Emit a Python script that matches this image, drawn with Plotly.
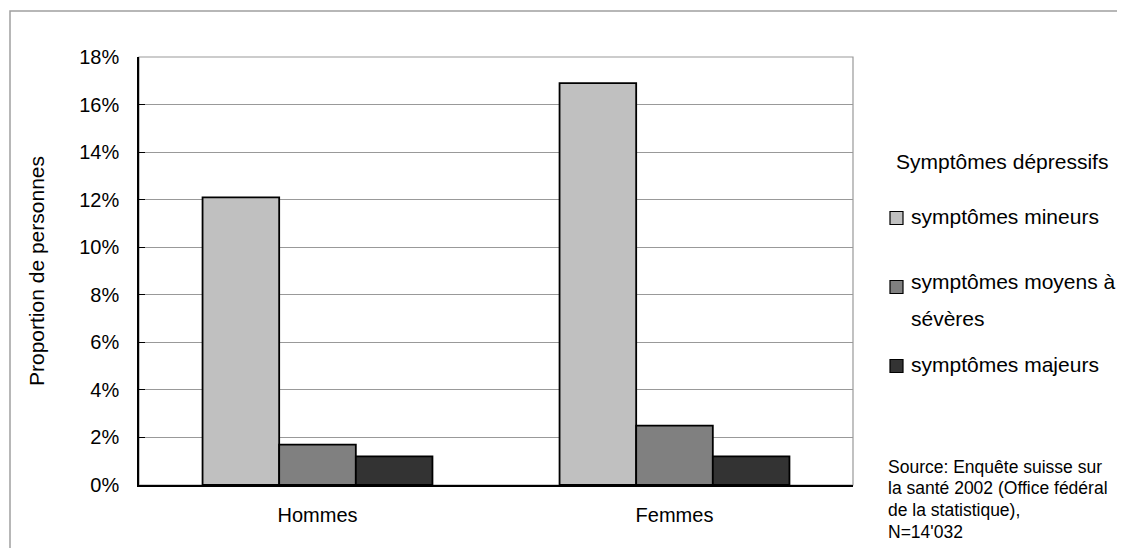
import plotly.graph_objects as go

categories = ["Hommes", "Femmes"]
series_names = ["symptômes mineurs", "symptômes moyens à sévères", "symptômes majeurs"]
mineurs = [12.1, 16.9]
moyens = [1.7, 2.5]
majeurs = [1.2, 1.2]
colors = ["#C0C0C0", "#808080", "#333333"]
y_ticks = [0, 2, 4, 6, 8, 10, 12, 14, 16, 18]
y_ticktext = [f"{v}%" for v in y_ticks]
source_lines = ["Source: Enquête suisse sur", "la santé 2002 (Office fédéral",
                "de la statistique),", "N=14'032"]

OFF = 8  # page body margin
W, H = 1125 - OFF, 548 - OFF
L, R, T, B = 139 - OFF, 1125 - 853, 57 - OFF, 548 - 485
PW, PH = W - L - R, H - T - B

def px_x(p):
    return (p - OFF - L) / PW

def px_y(p):
    return (H - B - (p - OFF)) / PH

FONT = "Liberation Sans, Arial, sans-serif"

fig = go.Figure()
for name, vals, col in zip(series_names, [mineurs, moyens, majeurs], colors):
    fig.add_trace(go.Bar(
        x=categories, y=vals, name=name,
        marker=dict(color=col, line=dict(color="black", width=1.8)),
        showlegend=False,
    ))

shapes = []
shapes.append(dict(type="rect", xref="paper", yref="paper", x0=0, y0=0, x1=1, y1=1,
                   line=dict(color="#999999", width=1.2), layer="below"))
shapes.append(dict(type="rect", xref="paper", yref="paper",
                   x0=px_x(10), y0=px_y(600), x1=px_x(1200), y1=px_y(11),
                   line=dict(color="#A0A0A0", width=1.5), layer="below"))

annotations = []
annotations.append(dict(text="Proportion de personnes", xref="paper", yref="paper",
                        x=px_x(36), y=px_y(271), textangle=-90, showarrow=False,
                        xanchor="center", yanchor="middle",
                        font=dict(family=FONT, size=21, color="black")))
annotations.append(dict(text="Symptômes dépressifs", xref="paper", yref="paper",
                        x=px_x(894), y=px_y(161), showarrow=False,
                        xanchor="left", yanchor="middle",
                        font=dict(family=FONT, size=21, color="black")))
legend_rows = [
    (["symptômes mineurs"], [216], 218),
    (["symptômes moyens à", "sévères"], [281, 318], 287),
    (["symptômes majeurs"], [364], 366),
]
for (lines, ys, sq_y), col in zip(legend_rows, colors):
    s = 6.5
    shapes.append(dict(type="rect", xref="paper", yref="paper",
                       x0=px_x(890), x1=px_x(903), y0=px_y(sq_y - s), y1=px_y(sq_y + s),
                       fillcolor=col, line=dict(color="black", width=1.2)))
    for ln, yy in zip(lines, ys):
        annotations.append(dict(text=ln, xref="paper", yref="paper",
                                x=px_x(909), y=px_y(yy), showarrow=False,
                                xanchor="left", yanchor="middle",
                                font=dict(family=FONT, size=21, color="black")))
for ln, yy in zip(source_lines, [467, 488.5, 510, 531.5]):
    annotations.append(dict(
        text=ln, xref="paper", yref="paper", x=px_x(886), y=px_y(yy), showarrow=False,
        xanchor="left", yanchor="middle", align="left",
        font=dict(family=FONT, size=17.5, color="black")))

fig.update_layout(
    width=W, height=H,
    margin=dict(l=L, r=R, t=T, b=B, autoexpand=False),
    paper_bgcolor="white", plot_bgcolor="white",
    barmode="group", bargap=0.356, bargroupgap=0,
    font=dict(family=FONT, size=19, color="black"),
    shapes=shapes, annotations=annotations,
    xaxis=dict(showline=True, linecolor="black", linewidth=1.5, ticks="",
               ticklabelstandoff=11, tickfont=dict(size=20), showgrid=False,
               zeroline=False),
    yaxis=dict(range=[0, 18], tickvals=y_ticks, ticktext=y_ticktext,
               showline=True, linecolor="black", linewidth=1.5,
               ticks="inside", ticklen=6, tickcolor="black", tickwidth=1.2,
               ticklabelstandoff=14, tickfont=dict(size=20),
               showgrid=True, gridcolor="#999999", gridwidth=1.2, zeroline=False),
)

fig.write_html("out.html")
